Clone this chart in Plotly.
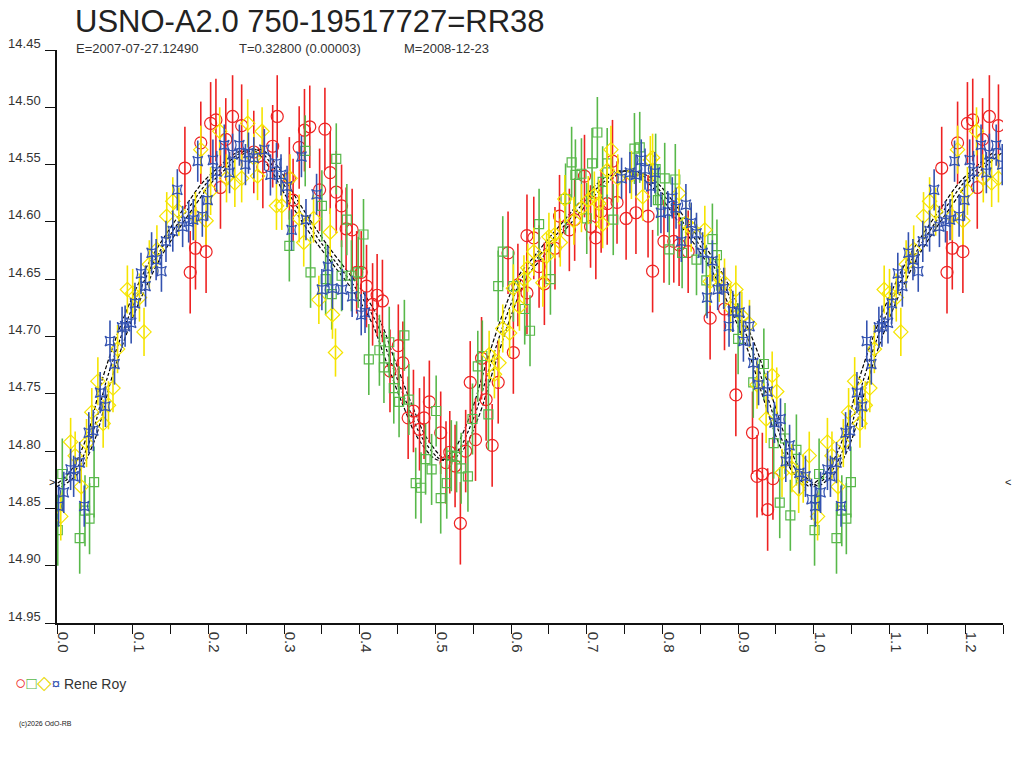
import plotly.graph_objects as go

# ---------------- data (phase, magnitude) ----------------
red_phase = [.169,.176,.183,.190,.197,.203,.210,.216,.223,.232,.244,.260,.272,.285,.291,.307,.312,.320,.327,.334,
             .347,.354,.361,.369,.376,.382,.390,.396,.402,.409,.417,.423,.430,.440,.451,.457,.464,.471,.479,.485,
             .492,.507,.514,.519,.526,.533,.540,.546,.553,.561,.567,.575,.583,.596,.603,.609,.621,.621,.630,.637,
             .644,.658,.664,.677,.684,.697,.705,.712,.719,.727,.734,.740,.752,.765,.781,.787,.802,.815,.822,.834,
             .863,.882,.897,.919,.925,.932,.939,.946]
red_mag = [14.553,14.644,14.623,14.531,14.626,14.514,14.511,14.570,14.528,14.508,14.516,14.539,14.552,14.534,14.508,14.562,14.581,14.535,14.520,14.517,
           14.572,14.519,14.557,14.574,14.586,14.606,14.607,14.644,14.644,14.656,14.672,14.664,14.669,14.730,14.708,14.723,14.771,14.765,14.781,14.771,
           14.757,14.784,14.810,14.801,14.813,14.863,14.800,14.740,14.790,14.719,14.755,14.795,14.740,14.627,14.714,14.655,14.612,14.662,14.614,14.639,
           14.654,14.623,14.595,14.607,14.598,14.560,14.604,14.614,14.591,14.584,14.547,14.583,14.597,14.592,14.595,14.643,14.617,14.617,14.620,14.626,
           14.684,14.676,14.751,14.784,14.822,14.820,14.851,14.824]
red_err = 0.036

green_phase = [.001,.007,.030,.037,.043,.049,.307,.328,.335,.350,.355,.363,.369,.376,.383,.389,.398,.405,.412,.426,
               .432,.439,.445,.452,.459,.465,.474,.481,.487,.495,.501,.507,.515,.521,.528,.534,.543,.549,.556,.562,
               .570,.583,.589,.603,.618,.625,.637,.652,.672,.680,.685,.693,.700,.707,.714,.721,.727,.735,.763,.770,
               .791,.794,.803,.809,.817,.826,.845,.858,.866,.872,.900,.920,.934,.947,.955,.962,.969,.977]
green_mag = [14.869,14.820,14.876,14.852,14.859,14.827,14.621,14.538,14.644,14.586,14.650,14.663,14.545,14.647,14.598,14.647,14.644,14.611,14.720,14.712,
             14.727,14.705,14.745,14.757,14.699,14.755,14.828,14.832,14.807,14.816,14.765,14.841,14.828,14.804,14.805,14.815,14.822,14.772,14.726,14.717,
             14.768,14.656,14.626,14.656,14.676,14.695,14.602,14.650,14.580,14.548,14.559,14.558,14.597,14.549,14.522,14.565,14.549,14.598,14.536,14.535,
             14.554,14.581,14.562,14.624,14.563,14.627,14.633,14.651,14.615,14.629,14.702,14.740,14.724,14.793,14.845,14.789,14.856,14.799]
green_err = 0.031

yellow_phase = [.005,.018,.024,.032,.039,.046,.054,.061,.068,.074,.080,.093,.100,.109,.115,.122,.132,.145,.153,.161,
                .183,.190,.197,.203,.215,.224,.235,.244,.252,.260,.265,.271,.290,.297,.308,.320,.326,.339,.346,.361,
                .364,.368,.571,.578,.584,.589,.598,.603,.611,.617,.622,.630,.642,.647,.650,.658,.665,.671,.683,.693,
                .702,.710,.716,.721,.727,.732,.741,.759,.774,.784,.787,.822,.831,.838,.856,.863,.875,.882,.890,.897,
                .905,.915,.925,.937,.945,.951,.958,.971,.980,.986,.994]
yellow_mag = [14.857,14.792,14.804,14.831,14.793,14.766,14.739,14.776,14.760,14.745,14.711,14.659,14.662,14.666,14.696,14.637,14.624,14.595,14.582,14.591,
              14.595,14.537,14.599,14.573,14.521,14.562,14.566,14.562,14.514,14.544,14.560,14.521,14.586,14.586,14.562,14.597,14.618,14.597,14.668,14.609,
              14.681,14.714,14.716,14.733,14.723,14.693,14.697,14.658,14.674,14.650,14.640,14.626,14.653,14.630,14.613,14.611,14.618,14.580,14.599,14.588,
              14.581,14.577,14.584,14.602,14.555,14.537,14.562,14.559,14.578,14.546,14.544,14.575,14.601,14.605,14.607,14.652,14.649,14.653,14.675,14.659,
              14.682,14.689,14.742,14.772,14.734,14.748,14.819,14.815,14.833,14.824,14.804]
yellow_err = 0.021

blue_phase = [.002,.009,.018,.022,.030,.036,.042,.048,.057,.064,.070,.076,.086,.090,.098,.103,.111,.117,.125,.131,
              .138,.144,.153,.159,.166,.174,.180,.186,.192,.199,.206,.211,.221,.228,.232,.241,.249,.253,.260,.274,
              .282,.290,.296,.304,.310,.323,.329,.343,.350,.358,.364,.377,.390,.402,.407,.746,.757,.765,.772,.777,
              .785,.790,.798,.807,.813,.818,.825,.831,.838,.845,.853,.859,.866,.873,.881,.888,.893,.902,.907,.915,
              .920,.927,.939,.948,.956,.963,.968,.981,.989,.997]
blue_mag = [14.848,14.836,14.816,14.822,14.810,14.848,14.784,14.782,14.749,14.761,14.704,14.724,14.692,14.691,14.688,14.671,14.645,14.656,14.627,14.633,
            14.643,14.617,14.608,14.572,14.604,14.600,14.598,14.547,14.595,14.581,14.546,14.556,14.533,14.557,14.541,14.533,14.550,14.540,14.544,14.537,
            14.559,14.549,14.559,14.569,14.607,14.543,14.598,14.576,14.659,14.639,14.658,14.659,14.665,14.681,14.679,14.562,14.557,14.559,14.546,14.554,
            14.569,14.557,14.592,14.591,14.579,14.588,14.617,14.585,14.601,14.610,14.627,14.666,14.634,14.659,14.658,14.691,14.678,14.679,14.704,14.691,
            14.723,14.742,14.748,14.775,14.772,14.809,14.795,14.819,14.822,14.842]
blue_err = 0.018

fit_phase = [0.0,0.022,0.044,0.066,0.088,0.110,0.132,0.154,0.176,0.198,0.220,0.242,0.264,0.286,0.308,0.330,0.352,0.374,
             0.396,0.422,0.440,0.462,0.484,0.510,0.528,0.550,0.572,0.594,0.616,0.633,0.655,0.677,0.699,0.721,0.743,
             0.765,0.787,0.809,0.831,0.853,0.875,0.898,0.920,0.937,0.959,0.981,1.0]
fit_mag = [14.831,14.819,14.790,14.737,14.694,14.659,14.630,14.607,14.586,14.566,14.552,14.540,14.537,14.552,14.577,14.600,14.621,14.640,
           14.659,14.688,14.720,14.758,14.790,14.808,14.801,14.772,14.726,14.682,14.647,14.633,14.615,14.598,14.581,14.566,14.556,
           14.557,14.566,14.583,14.604,14.624,14.647,14.679,14.714,14.749,14.792,14.821,14.831]
fit_phase_err = 0.006
mean_mag = 14.827

x_ticks = [0.0,0.1,0.2,0.3,0.4,0.5,0.6,0.7,0.8,0.9,1.0,1.1,1.2]
y_ticks = [14.45,14.50,14.55,14.60,14.65,14.70,14.75,14.80,14.85,14.90,14.95]

title_text = "USNO-A2.0 750-19517727=RR38"
sub_e = "E=2007-07-27.12490"
sub_t = "T=0.32800 (0.00003)"
sub_m = "M=2008-12-23"
observer = "Rene Roy"
copyright_text = "(c)2026 OdO-RB"

EXTEND = 0.25


def extend(ph, mg):
    xs = list(ph) + [p + 1 for p in ph if p < EXTEND]
    ys = list(mg) + [m for p, m in zip(ph, mg) if p < EXTEND]
    return xs, ys


FONT = "Liberation Sans, Arial, sans-serif"

# figure fills the page (body margin removed after render)
FIG_W, FIG_H = 1024, 768
# plot area in page pixels
L, R, T, B = 57, 1003, 50, 623
W, H = R - L, B - T


def px_x(px):
    return (px - L) / W


def px_y(py):
    return (B - py) / H


fig = go.Figure()

# fitted curve (centre + period-uncertainty envelope)
fx, fy = extend(fit_phase, fit_mag)
for shift, dash in [(-fit_phase_err, "4px,2px"), (0.0, "3px,2px"), (fit_phase_err, "4px,2px")]:
    fig.add_trace(go.Scatter(x=[x + shift for x in fx], y=fy, mode="lines",
                             line=dict(color="#000000", width=1.2, dash=dash, shape="spline"),
                             showlegend=False, hoverinfo="skip"))

series = [
    (red_phase, red_mag, red_err, "#ee2222", "circle-open", 12),
    (green_phase, green_mag, green_err, "#58b84a", "square-open", 9),
    (yellow_phase, yellow_mag, yellow_err, "#f5e400", "diamond-open", 11),
    (blue_phase, blue_mag, blue_err, "#3352b0", "star-square-open", 9),
]
for ph, mg, er, col, sym, sz in series:
    xs, ys = extend(ph, mg)
    fig.add_trace(go.Scatter(
        x=xs, y=ys, mode="markers",
        marker=dict(symbol=sym, size=sz, color=col, line=dict(color=col, width=1.2)),
        error_y=dict(type="constant", value=er, color=col, thickness=1.6, width=0),
        showlegend=False))

fig.update_layout(
    width=FIG_W, height=FIG_H,
    margin=dict(l=L, r=FIG_W - R, t=T, b=FIG_H - B, autoexpand=False),
    paper_bgcolor="white", plot_bgcolor="white",
    font=dict(family=FONT, color="#222222"),
    showlegend=False,
)
fig.update_xaxes(
    range=[0, 1.25], tickmode="array", tickvals=x_ticks,
    ticktext=[f"{v:.1f}" for v in x_ticks],
    tickangle=90, ticks="outside", ticklen=9, tickcolor="#111111", tickwidth=1,
    minor=dict(dtick=0.05, tick0=0.05, ticks="outside", ticklen=9, tickcolor="#111111", tickwidth=1),
    showline=True, linecolor="#111111", linewidth=1.5,
    showgrid=False, zeroline=False, ticklabelshift=6, ticklabelstandoff=-5, automargin=False,
    tickfont=dict(family=FONT, size=15, color="#333333"),
)
fig.update_yaxes(
    range=[14.95, 14.45], tickmode="array", tickvals=y_ticks,
    ticktext=[f"{v:.2f}" for v in y_ticks],
    ticks="outside", ticklen=10, tickcolor="#111111", tickwidth=1,
    showline=True, linecolor="#111111", linewidth=1.5,
    showgrid=False, zeroline=False, ticklabelshift=7, ticklabelstandoff=2, automargin=False,
    tickfont=dict(family=FONT, size=13, color="#333333"),
)

fig.add_annotation(text=title_text, xref="paper", yref="paper",
                   x=px_x(73), y=px_y(21), xanchor="left", yanchor="middle",
                   showarrow=False, font=dict(family=FONT, size=31, color="#222222"))
for txt, px in [(sub_e, 74), (sub_t, 237), (sub_m, 402)]:
    fig.add_annotation(text=txt, xref="paper", yref="paper",
                       x=px_x(px), y=px_y(48), xanchor="left", yanchor="middle",
                       showarrow=False, font=dict(family=FONT, size=13, color="#333333"))
# mean magnitude markers
fig.add_annotation(text=">", xref="paper", yref="y", x=px_x(52), y=mean_mag,
                   xanchor="center", yanchor="middle", showarrow=False,
                   font=dict(family=FONT, size=11, color="#222222"))
fig.add_annotation(text="<", xref="paper", yref="y", x=px_x(1008), y=mean_mag,
                   xanchor="center", yanchor="middle", showarrow=False,
                   font=dict(family=FONT, size=11, color="#222222"))
# legend line
legend_html = ('<span style="color:#ee2222;font-size:19px">○</span>'
               '<span style="color:#58b84a;font-size:17px">□</span>'
               '<span style="color:#e8d800;font-size:19px">◇</span>'
               '<span style="color:#3352b0;font-size:15px">¤</span> ' + observer)
fig.add_annotation(text=legend_html, xref="paper", yref="paper",
                   x=px_x(13), y=px_y(682), xanchor="left", yanchor="middle",
                   showarrow=False, font=dict(family=FONT, size=14, color="#333333"))
fig.add_annotation(text=copyright_text, xref="paper", yref="paper",
                   x=px_x(17), y=px_y(724), xanchor="left", yanchor="middle",
                   showarrow=False, font=dict(family=FONT, size=7, color="#222222"))

fig.write_html("out.html", config={"displayModeBar": False},
               post_script="document.body.style.margin='0';document.body.style.overflow='hidden';")
